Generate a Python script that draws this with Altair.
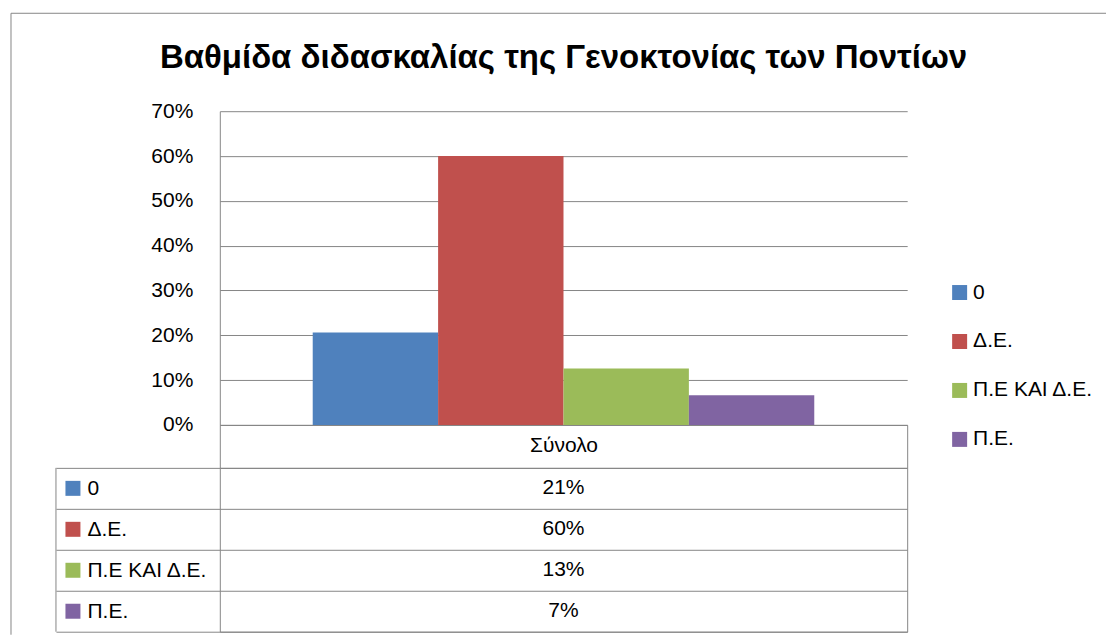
import altair as alt
import pandas as pd

# ---- data ----
TITLE = "Βαθμίδα διδασκαλίας της Γενοκτονίας των Ποντίων"
CATEGORY = "Σύνολο"
SERIES = ["0", "Δ.Ε.", "Π.Ε ΚΑΙ Δ.Ε.", "Π.Ε."]
VALUES = [0.206, 0.600, 0.126, 0.066]
COLORS = ["#4F81BD", "#C0504D", "#9BBB59", "#8064A2"]
Y_TICKS = [0.0, 0.1, 0.2, 0.3, 0.4, 0.5, 0.6, 0.7]

# ---- layout / style ----
FONT = "Liberation Sans"
GRAY = "#868686"
TXT = "#000000"
FS = 21
PLOT_W, PLOT_H = 688, 314
HEADER_H = 43
ROW_H = 41
TABLE_H = ROW_H * len(SERIES)
LABEL_COL_W = 164

df = pd.DataFrame({
    "category": [CATEGORY] * len(SERIES),
    "series": SERIES,
    "value": VALUES,
})

color_scale = alt.Scale(domain=SERIES, range=COLORS)

# ---- top chart: clustered bars ----
bars = alt.Chart(df).mark_bar().encode(
    x=alt.X(
        "category:N", title=None,
        scale=alt.Scale(paddingInner=0, paddingOuter=0),
        axis=alt.Axis(domain=True, domainColor=GRAY, ticks=True, tickBand="extent",
                      tickSize=HEADER_H, tickColor=GRAY, grid=False, labelAngle=0,
                      labelFont=FONT, labelFontSize=FS, labelColor=TXT,
                      labelBaseline="middle", labelPadding=-22),
    ),
    xOffset=alt.XOffset("series:N", sort=SERIES,
                        scale=alt.Scale(paddingInner=0, paddingOuter=0.741)),
    y=alt.Y(
        "value:Q", title=None,
        scale=alt.Scale(domain=[0, 0.7], nice=False, zero=True),
        axis=alt.Axis(values=Y_TICKS, format=".0%", domain=True, domainColor=GRAY,
                      ticks=False, grid=True, gridColor=GRAY, gridOpacity=1,
                      labelFont=FONT, labelFontSize=FS, labelColor=TXT, labelPadding=27),
    ),
    color=alt.Color(
        "series:N", sort=SERIES, scale=color_scale,
        legend=alt.Legend(title=None, orient="none", legendX=730, legendY=171,
                          symbolType="square", symbolSize=225, symbolStrokeWidth=0,
                          labelFont=FONT, labelFontSize=FS, labelColor=TXT,
                          labelOffset=3, rowPadding=27, padding=0),
    ),
)

top = bars.properties(
    width=PLOT_W, height=PLOT_H,
    view=alt.ViewBackground(stroke="transparent"),
    title=alt.TitleParams(TITLE, font=FONT, fontSize=33, fontWeight="bold", color=TXT,
                          anchor="middle", frame="group", baseline="alphabetic", offset=-1),
)

# ---- data table ----
y_rows = alt.Y(
    "series:N", sort=SERIES, title=None,
    scale=alt.Scale(paddingInner=0, paddingOuter=0),
    axis=alt.Axis(domain=False, ticks=True, tickBand="extent", tickSize=LABEL_COL_W,
                  tickColor=GRAY, grid=True, gridColor=GRAY, gridOpacity=1,
                  labelFont=FONT, labelFontSize=FS, labelColor=TXT,
                  labelAlign="left", labelBaseline="middle", labelPadding=-31),
)

cells = alt.Chart(df).mark_text(font=FONT, fontSize=FS, color=TXT).encode(
    y=y_rows,
    text=alt.Text("value:Q", format=".0%"),
)

keys = alt.Chart(df).mark_square(size=225, opacity=1, strokeWidth=0).encode(
    x=alt.value(-147),
    y=y_rows,
    color=alt.Color("series:N", sort=SERIES, scale=color_scale, legend=None),
)

one = pd.DataFrame({"k": [0]})
label_border = alt.Chart(one).mark_rule(color=GRAY, strokeWidth=1).encode(
    x=alt.value(-LABEL_COL_W), y=alt.value(0), y2=alt.value(TABLE_H)
)
frame_left = alt.Chart(one).mark_rule(color=GRAY, strokeWidth=1).encode(
    x=alt.value(-209), y=alt.value(-455), y2=alt.value(TABLE_H + 3)
)
frame_top = alt.Chart(one).mark_rule(color=GRAY, strokeWidth=1).encode(
    x=alt.value(-209), x2=alt.value(887), y=alt.value(-455)
)

table = alt.layer(cells, keys, label_border, frame_left, frame_top).properties(
    width=PLOT_W, height=TABLE_H,
    view=alt.ViewBackground(stroke=GRAY, strokeWidth=1),
)

chart = alt.vconcat(top, table, spacing=HEADER_H, bounds="flush").resolve_legend(
    color="independent"
).properties(
    padding={"left": 2, "top": 4, "right": 0, "bottom": 0},
    background="white",
).configure(font=FONT)

chart.save("out.html", embed_options={"renderer": "svg", "actions": False})
